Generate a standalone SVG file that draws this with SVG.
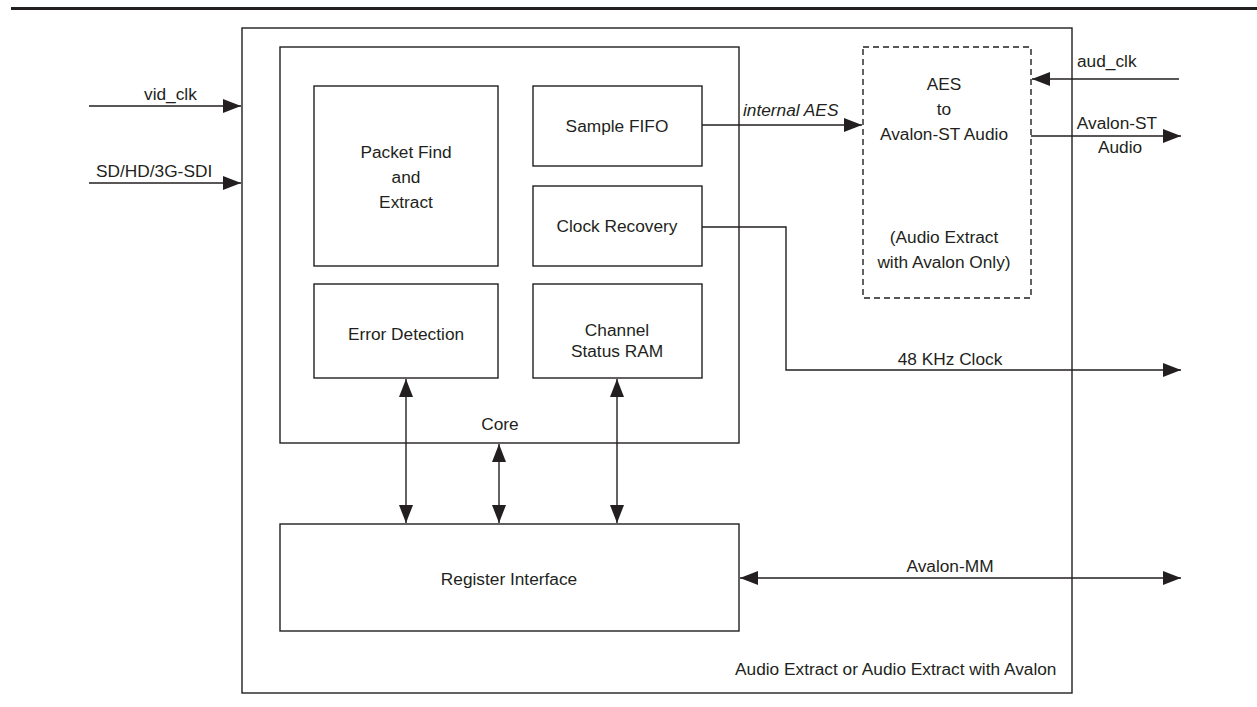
<svg xmlns="http://www.w3.org/2000/svg" width="1257" height="707" viewBox="0 0 1257 707">
<style>
.box{fill:none;stroke:#231f20;stroke-width:1.4}
.dash{fill:none;stroke:#231f20;stroke-width:1.4;stroke-dasharray:6 4}
.ln{fill:none;stroke:#231f20;stroke-width:1.4}
text{font-family:"Liberation Sans",Arial,sans-serif;font-size:17.3px;fill:#231f20}
.c{text-anchor:middle}
.i{font-style:italic}
</style>
<defs>
<marker id="ah" viewBox="0 0 18 14" refX="18" refY="7" markerWidth="18" markerHeight="14" markerUnits="userSpaceOnUse" orient="auto-start-reverse">
<path d="M0,0 L18,7 L0,14 z" fill="#231f20"/>
</marker>
</defs>
<rect width="1257" height="707" fill="#fff"/>
<line x1="11" y1="8.5" x2="1257" y2="8.5" stroke="#231f20" stroke-width="3"/>
<g id="outer">
<rect class="box" x="242" y="28" width="830" height="665"/>
<text x="735" y="675">Audio Extract or Audio Extract with Avalon</text>
</g>
<g id="core">
<rect class="box" x="280" y="47" width="459" height="396"/>
<text class="c" x="500" y="430">Core</text>
</g>
<g id="packet">
<rect class="box" x="314" y="86" width="184" height="180"/>
<text class="c" x="406" y="158">Packet Find</text>
<text class="c" x="406" y="183">and</text>
<text class="c" x="406" y="208">Extract</text>
</g>
<g id="fifo">
<rect class="box" x="533" y="86" width="169" height="80"/>
<text class="c" x="617" y="132">Sample FIFO</text>
</g>
<g id="clkrec">
<rect class="box" x="533" y="186" width="169" height="80"/>
<text class="c" x="617" y="232">Clock Recovery</text>
</g>
<g id="errdet">
<rect class="box" x="314" y="284" width="184" height="94"/>
<text class="c" x="406" y="340">Error Detection</text>
</g>
<g id="chstat">
<rect class="box" x="533" y="284" width="169" height="94"/>
<text class="c" x="617" y="336">Channel</text>
<text class="c" x="617" y="357">Status RAM</text>
</g>
<g id="regif">
<rect class="box" x="280" y="524" width="459" height="107"/>
<text class="c" x="509" y="585">Register Interface</text>
</g>
<g id="aes">
<rect class="dash" x="863" y="47" width="168" height="251"/>
<text class="c" x="944" y="90">AES</text>
<text class="c" x="944" y="115">to</text>
<text class="c" x="944" y="140">Avalon-ST Audio</text>
<text class="c" x="944" y="243">(Audio Extract</text>
<text class="c" x="944" y="268">with Avalon Only)</text>
</g>
<g id="connectors">
<line class="ln" x1="89" y1="106" x2="241" y2="106" marker-end="url(#ah)"/>
<text x="144" y="100">vid_clk</text>
<line class="ln" x1="89" y1="183" x2="241" y2="183" marker-end="url(#ah)"/>
<text x="96" y="177">SD/HD/3G-SDI</text>
<line class="ln" x1="702" y1="125" x2="862" y2="125" marker-end="url(#ah)"/>
<text class="i" x="743" y="116">internal AES</text>
<line class="ln" x1="1179" y1="79" x2="1032" y2="79" marker-end="url(#ah)"/>
<text x="1077" y="67">aud_clk</text>
<line class="ln" x1="1031" y1="136" x2="1181" y2="136" marker-end="url(#ah)"/>
<text class="c" x="1117" y="129">Avalon-ST</text>
<text class="c" x="1120" y="153">Audio</text>
<polyline class="ln" points="702,227 786,227 786,370 1181,370" marker-end="url(#ah)"/>
<text class="c" x="950" y="365">48 KHz Clock</text>
<line class="ln" x1="740" y1="578" x2="1181" y2="578" marker-start="url(#ah)" marker-end="url(#ah)"/>
<text class="c" x="950" y="572">Avalon-MM</text>
<line class="ln" x1="406" y1="379" x2="406" y2="523" marker-start="url(#ah)" marker-end="url(#ah)"/>
<line class="ln" x1="499" y1="444" x2="499" y2="523" marker-start="url(#ah)" marker-end="url(#ah)"/>
<line class="ln" x1="617" y1="379" x2="617" y2="523" marker-start="url(#ah)" marker-end="url(#ah)"/>
</g>
</svg>
